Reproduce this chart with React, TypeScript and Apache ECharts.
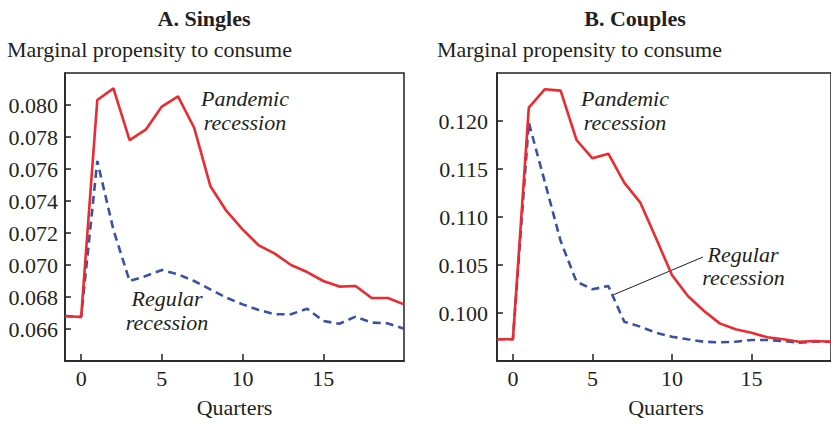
import React, { useEffect, useRef } from "react";
import * as echarts from "echarts";

const quarters = [-1, 0, 1, 2, 3, 4, 5, 6, 7, 8, 9, 10, 11, 12, 13, 14, 15, 16, 17, 18, 19, 20];

const singlesPandemic = [
  0.06681, 0.06675, 0.08031, 0.08104, 0.07781, 0.07846, 0.0799, 0.08054, 0.07858, 0.07494, 0.07338,
  0.07223, 0.07123, 0.07071, 0.07, 0.06956, 0.069, 0.06865, 0.06869, 0.06794, 0.06794, 0.06754,
];
const singlesRegular = [
  0.06681, 0.06675, 0.0765, 0.0722, 0.069, 0.06931, 0.06969, 0.06942, 0.069, 0.06848, 0.06796,
  0.06754, 0.06719, 0.06692, 0.06692, 0.06727, 0.0665, 0.06633, 0.06677, 0.0664, 0.06635, 0.06602,
];
const couplesPandemic = [
  0.09726, 0.09726, 0.12139, 0.1233, 0.12316, 0.11802, 0.11611, 0.1166, 0.11358, 0.11153, 0.10778,
  0.10396, 0.10177, 0.10024, 0.09892, 0.0983, 0.09795, 0.09747, 0.09726, 0.09701, 0.09708, 0.09701,
];
const couplesRegular = [
  0.09726, 0.09726, 0.11983, 0.1137, 0.1075, 0.10326, 0.10247, 0.10281, 0.0991, 0.09858, 0.09795,
  0.09753, 0.09726, 0.09701, 0.09694, 0.09701, 0.09719, 0.09719, 0.09708, 0.0969, 0.09701, 0.09701,
];

const xTicks = [0, 5, 10, 15];
const panelTitles = ["A. Singles", "B. Couples"];
const yTitle = "Marginal propensity to consume";
const xTitle = "Quarters";

const RED = "#ec2a30";
const BLUE = "#3a52a6";
const INK = "#231f20";
const FONT = "'Liberation Serif', 'Times New Roman', serif";

const pairs = (ys: number[]) => quarters.map((q, i) => [q, ys[i]]);

export default function App() {
  const ref = useRef<HTMLDivElement>(null);
  useEffect(() => {
    if (!ref.current) return;
    const chart = echarts.init(ref.current, null, { renderer: "svg" });
    const xAxisBase = (gridIndex: number) => ({
      type: "value",
      gridIndex,
      min: -1,
      max: 20,
      axisLine: { show: true, onZero: false, lineStyle: { color: INK, width: 1.5 } },
      axisTick: { show: true, inside: true, length: 7, customValues: xTicks, lineStyle: { color: INK, width: 1.5 } },
      axisLabel: { customValues: xTicks, color: INK, fontFamily: FONT, fontSize: 22, margin: 6 },
      splitLine: { show: false },
    });
    const yAxisBase = (gridIndex: number, min: number, max: number, interval: number, margin: number) => ({
      type: "value",
      gridIndex,
      min,
      max,
      interval,
      axisLine: { show: true, onZero: false, lineStyle: { color: INK, width: 1.5 } },
      axisTick: { show: true, inside: true, length: 6, lineStyle: { color: INK, width: 1.5 } },
      axisLabel: {
        color: INK,
        fontFamily: FONT,
        fontSize: 22,
        margin,
        showMinLabel: false,
        showMaxLabel: false,
        formatter: (v: number) => v.toFixed(3),
      },
      splitLine: { show: false },
    });
    const lineSeries = (name: string, data: number[], idx: number, color: string, dashed: boolean) => ({
      type: "line",
      name,
      xAxisIndex: idx,
      yAxisIndex: idx,
      data: pairs(data),
      symbol: "none",
      z: dashed ? 2 : 3,
      lineStyle: { color, width: 2.6, type: dashed ? [8, 5] : "solid" },
    });
    const txt = (text: string, x: number, y: number, opts: any = {}) => ({
      type: "text",
      x,
      y,
      style: {
        text,
        fill: INK,
        font: `${opts.style || "normal"} ${opts.weight || "normal"} 22px ${FONT}`,
        textAlign: opts.align || "center",
        textVerticalAlign: "middle",
      },
    });
    chart.setOption({
      animation: false,
      grid: [
        { left: 65, top: 73, width: 339, height: 288, show: true, borderColor: INK, borderWidth: 1.5, backgroundColor: "transparent" },
        { left: 497, top: 73, width: 338, height: 288, show: true, borderColor: INK, borderWidth: 1.5, backgroundColor: "transparent" },
      ],
      xAxis: [xAxisBase(0), xAxisBase(1)],
      yAxis: [yAxisBase(0, 0.064, 0.082, 0.002, 7), yAxisBase(1, 0.095, 0.125, 0.005, 9)],
      series: [
        lineSeries("Pandemic recession", singlesPandemic, 0, RED, false),
        lineSeries("Regular recession", singlesRegular, 0, BLUE, true),
        lineSeries("Pandemic recession", couplesPandemic, 1, RED, false),
        lineSeries("Regular recession", couplesRegular, 1, BLUE, true),
      ],
      graphic: [
        txt(panelTitles[0], 204, 18, { weight: "bold" }),
        txt(panelTitles[1], 635, 18, { weight: "bold" }),
        txt(yTitle, 7, 49, { align: "left" }),
        txt(yTitle, 437, 49, { align: "left" }),
        txt(xTitle, 234.5, 407.5),
        txt(xTitle, 666, 407.5),
        txt("Pandemic", 245, 98.5, { style: "italic" }),
        txt("recession", 245, 122.5, { style: "italic" }),
        txt("Regular", 167, 298.5, { style: "italic" }),
        txt("recession", 167, 322, { style: "italic" }),
        txt("Pandemic", 625, 98.5, { style: "italic" }),
        txt("recession", 625, 122.5, { style: "italic" }),
        txt("Regular", 743, 254.5, { style: "italic" }),
        txt("recession", 743.5, 277.5, { style: "italic" }),
        {
          type: "line",
          shape: { x1: 613, y1: 295, x2: 703, y2: 257 },
          style: { stroke: INK, lineWidth: 1 },
        },
      ],
    });
    return () => chart.dispose();
  }, []);
  return (
    <div
      ref={ref}
      style={{ position: "fixed", left: 0, top: 0, width: 831, height: 426, background: "#fff" }}
    />
  );
}
